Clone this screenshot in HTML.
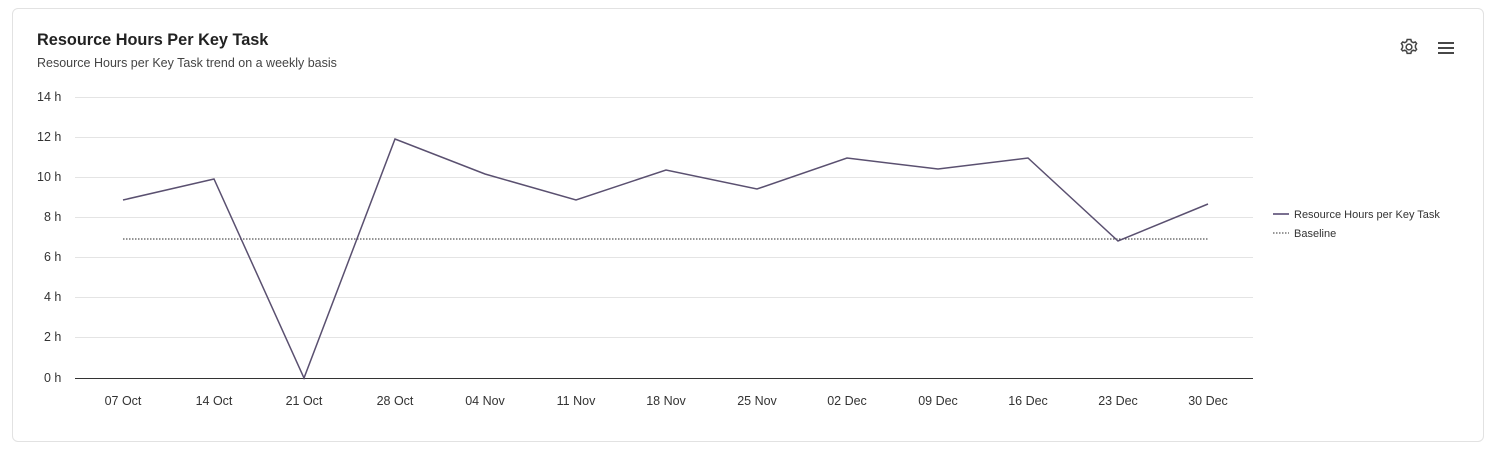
<!DOCTYPE html>
<html><head><style>
html,body{margin:0;padding:0;background:#fff;width:1494px;height:451px;overflow:hidden;font-family:"Liberation Sans",sans-serif;}
.card{position:absolute;left:12px;top:8px;width:1470px;height:432px;border:1px solid #e2e2e2;border-radius:6px;}
</style></head><body>
<div class="card"></div>
<svg width="1494" height="451" style="position:absolute;left:0;top:0" font-family="Liberation Sans, sans-serif">
<text x="37" y="45" font-size="16.3" font-weight="bold" fill="#222">Resource Hours Per Key Task</text>
<text x="37" y="67" font-size="12.5" fill="#444">Resource Hours per Key Task trend on a weekly basis</text>
<g stroke="#e4e4e4" stroke-width="1">
<line x1="75" x2="1253" y1="97.5" y2="97.5"/><line x1="75" x2="1253" y1="137.5" y2="137.5"/>
<line x1="75" x2="1253" y1="177.5" y2="177.5"/><line x1="75" x2="1253" y1="217.5" y2="217.5"/>
<line x1="75" x2="1253" y1="257.5" y2="257.5"/><line x1="75" x2="1253" y1="297.5" y2="297.5"/>
<line x1="75" x2="1253" y1="337.5" y2="337.5"/>
</g>
<line x1="75" x2="1253" y1="378.5" y2="378.5" stroke="#333" stroke-width="1"/>
<g font-size="12.5" fill="#333">
<text x="37" y="101">14 h</text><text x="37" y="141">12 h</text><text x="37" y="181">10 h</text>
<text x="44" y="221">8 h</text><text x="44" y="261">6 h</text><text x="44" y="301">4 h</text>
<text x="44" y="341">2 h</text><text x="44" y="382">0 h</text>
</g>
<g font-size="12.5" fill="#333" text-anchor="middle">
<text x="123" y="405">07 Oct</text><text x="214" y="405">14 Oct</text><text x="304" y="405">21 Oct</text>
<text x="395" y="405">28 Oct</text><text x="485" y="405">04 Nov</text><text x="576" y="405">11 Nov</text>
<text x="666" y="405">18 Nov</text><text x="757" y="405">25 Nov</text><text x="847" y="405">02 Dec</text>
<text x="938" y="405">09 Dec</text><text x="1028" y="405">16 Dec</text><text x="1118" y="405">23 Dec</text>
<text x="1208" y="405">30 Dec</text>
</g>
<line x1="123" x2="1208" y1="239" y2="239" stroke="#555" stroke-width="1.2" stroke-dasharray="1.5,1.5"/>
<polyline fill="none" stroke="#5a5070" stroke-width="1.5" points="123,200 214,179 304,378 395,139 485,174 576,200 666,170 757,189 847,158 938,169 1028,158 1118,241 1208,204"/>
<line x1="1273" x2="1289" y1="214" y2="214" stroke="#7a7090" stroke-width="2"/>
<text x="1294" y="218" font-size="11" fill="#333">Resource Hours per Key Task</text>
<line x1="1273" x2="1289" y1="233" y2="233" stroke="#777" stroke-width="1.5" stroke-dasharray="1.5,1.5"/>
<text x="1294" y="237" font-size="11" fill="#333">Baseline</text>
<g fill="none" stroke="#444" stroke-width="1.3" transform="translate(1409 47) scale(1.15) translate(-1409 -47)">
<circle cx="1409" cy="47" r="2.5"/>
<path d="M1409 40.5 l1.6 0 .5 1.8 1.6.9 1.8-.6 1.1 1.4-1 1.6v1.8l1 1.6-1.1 1.4-1.8-.6-1.6.9-.5 1.8h-3.2l-.5-1.8-1.6-.9-1.8.6-1.1-1.4 1-1.6v-1.8l-1-1.6 1.1-1.4 1.8.6 1.6-.9.5-1.8z"/>
</g>
<g stroke="#333" stroke-width="1.8">
<line x1="1438" x2="1454" y1="43" y2="43"/><line x1="1438" x2="1454" y1="48" y2="48"/><line x1="1438" x2="1454" y1="53" y2="53"/>
</g>
</svg>
</body></html>
